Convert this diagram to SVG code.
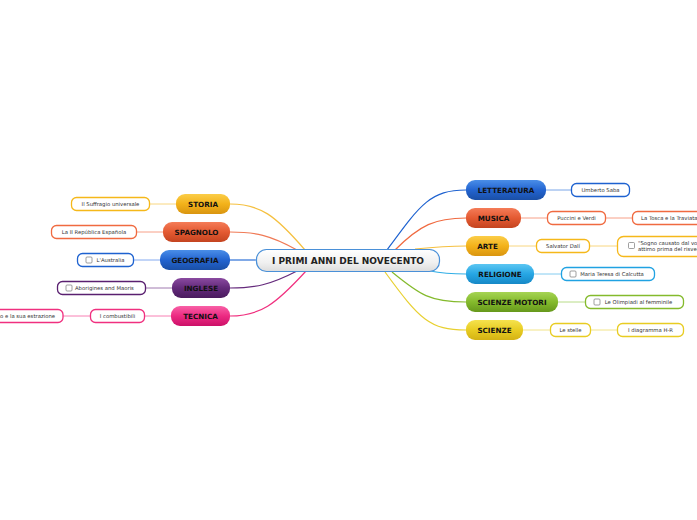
<svg xmlns="http://www.w3.org/2000/svg" width="697" height="520" viewBox="0 0 697 520">
<defs>
<linearGradient id="gBlue" x1="0" y1="0" x2="0" y2="1"><stop offset="0" stop-color="#4a8ee8"/><stop offset="0.5" stop-color="#2364d0"/><stop offset="1" stop-color="#1a4fa6"/></linearGradient>
<linearGradient id="gRed" x1="0" y1="0" x2="0" y2="1"><stop offset="0" stop-color="#f47c58"/><stop offset="0.5" stop-color="#e45a32"/><stop offset="1" stop-color="#c44420"/></linearGradient>
<linearGradient id="gGold" x1="0" y1="0" x2="0" y2="1"><stop offset="0" stop-color="#fbcd48"/><stop offset="0.5" stop-color="#f3b21a"/><stop offset="1" stop-color="#d99510"/></linearGradient>
<linearGradient id="gCyan" x1="0" y1="0" x2="0" y2="1"><stop offset="0" stop-color="#5cc6f2"/><stop offset="0.5" stop-color="#26a6e4"/><stop offset="1" stop-color="#1688c6"/></linearGradient>
<linearGradient id="gGreen" x1="0" y1="0" x2="0" y2="1"><stop offset="0" stop-color="#a6d454"/><stop offset="0.5" stop-color="#84ba2c"/><stop offset="1" stop-color="#66981c"/></linearGradient>
<linearGradient id="gYellow" x1="0" y1="0" x2="0" y2="1"><stop offset="0" stop-color="#f5e24e"/><stop offset="0.5" stop-color="#e8cc22"/><stop offset="1" stop-color="#d4b214"/></linearGradient>
<linearGradient id="gPurple" x1="0" y1="0" x2="0" y2="1"><stop offset="0" stop-color="#8a4aa0"/><stop offset="0.5" stop-color="#632a7a"/><stop offset="1" stop-color="#4a1a5e"/></linearGradient>
<linearGradient id="gPink" x1="0" y1="0" x2="0" y2="1"><stop offset="0" stop-color="#f860a6"/><stop offset="0.5" stop-color="#ec2a82"/><stop offset="1" stop-color="#cc1068"/></linearGradient>
<linearGradient id="gCenter" x1="0" y1="0" x2="0" y2="1"><stop offset="0" stop-color="#ffffff"/><stop offset="0.6" stop-color="#f0f0f0"/><stop offset="1" stop-color="#dcdcdc"/></linearGradient>
</defs>
<style>
.main text{font-family:"DejaVu Sans",Verdana,sans-serif;font-weight:bold;font-size:7.2px;fill:#111;text-anchor:middle}
.sub rect.b{fill:#fff;stroke-width:1.3}
.sub text{font-family:"DejaVu Sans",Verdana,sans-serif;font-size:5.3px;fill:#333;text-anchor:middle}
.cb{fill:#fff;stroke:#777;stroke-width:0.7}
#connectors path{fill:none;stroke-width:1.2}
#connectors line{stroke-width:1}
</style>
<rect width="697" height="520" fill="#ffffff"/>
<g id="connectors">
<path d="M387,250 C420,205 430,190 466,190" stroke="#1e62d0"/>
<path d="M395,250 C420,225 435,218 466,218" stroke="#f06a40"/>
<path d="M415,249 C435,247 450,246 466,246" stroke="#f5c040"/>
<path d="M430,271 C445,274 455,274 466,274" stroke="#30aee6"/>
<path d="M392,272 C420,295 430,302 466,302" stroke="#84ba2c"/>
<path d="M385,272 C420,320 430,330 466,330" stroke="#e8d030"/>
<path d="M305,250 C275,215 260,204 230,204" stroke="#f5c040"/>
<path d="M297,250 C270,235 255,232 230,232" stroke="#f07a56"/>
<path d="M256,260 L230,260" stroke="#2e72d8"/>
<path d="M297,271 C270,285 255,288 230,288" stroke="#652a7c"/>
<path d="M306,271 C275,305 260,316 230,316" stroke="#f0307f"/>
<line x1="546" y1="190" x2="571" y2="190" stroke="#7aa6e8"/>
<line x1="521" y1="218" x2="547" y2="218" stroke="#f7a088"/>
<line x1="605" y1="218" x2="632" y2="218" stroke="#f7a088"/>
<line x1="509" y1="246" x2="536" y2="246" stroke="#f8d680"/>
<line x1="589" y1="246" x2="617" y2="246" stroke="#f8d680"/>
<line x1="534" y1="274" x2="561" y2="274" stroke="#84ccf0"/>
<line x1="558" y1="302" x2="585" y2="302" stroke="#b8dc88"/>
<line x1="523" y1="330" x2="550" y2="330" stroke="#f2e488"/>
<line x1="590" y1="330" x2="617" y2="330" stroke="#f2e488"/>
<line x1="176" y1="204" x2="150" y2="204" stroke="#f8d680"/>
<line x1="163" y1="232" x2="137" y2="232" stroke="#f7a088"/>
<line x1="160" y1="260" x2="134" y2="260" stroke="#84aaf0"/>
<line x1="172" y1="288" x2="146" y2="288" stroke="#a07ab0"/>
<line x1="171" y1="316" x2="145" y2="316" stroke="#f880b4"/>
<line x1="90" y1="316" x2="63" y2="316" stroke="#f880b4"/>
</g>
<g id="center">
<rect x="256.5" y="249.5" width="183" height="22" rx="10" fill="url(#gCenter)" stroke="#4a90d8" stroke-width="1.2"/>
<text x="348" y="263.8" font-family="DejaVu Sans,Verdana,sans-serif" font-weight="bold" font-size="9" fill="#222" text-anchor="middle">I PRIMI ANNI DEL NOVECENTO</text>
</g>
<g id="letteratura" class="main"><rect x="466" y="180" width="80" height="20" rx="9" fill="url(#gBlue)"/><text x="506" y="192.6">LETTERATURA</text></g>
<g id="musica" class="main"><rect x="466" y="208" width="55" height="20" rx="9" fill="url(#gRed)"/><text x="493.5" y="220.6">MUSICA</text></g>
<g id="arte" class="main"><rect x="466" y="236" width="43" height="20" rx="9" fill="url(#gGold)"/><text x="487.5" y="248.6">ARTE</text></g>
<g id="religione" class="main"><rect x="466" y="264" width="68" height="20" rx="9" fill="url(#gCyan)"/><text x="500" y="276.6">RELIGIONE</text></g>
<g id="scienze-motori" class="main"><rect x="466" y="292" width="92" height="20" rx="9" fill="url(#gGreen)"/><text x="512" y="304.6">SCIENZE MOTORI</text></g>
<g id="scienze" class="main"><rect x="466" y="320" width="57" height="20" rx="9" fill="url(#gYellow)"/><text x="494.5" y="332.6">SCIENZE</text></g>
<g id="storia" class="main"><rect x="176" y="194" width="54" height="20" rx="9" fill="url(#gGold)"/><text x="203" y="206.6">STORIA</text></g>
<g id="spagnolo" class="main"><rect x="163" y="222" width="67" height="20" rx="9" fill="url(#gRed)"/><text x="196.5" y="234.6">SPAGNOLO</text></g>
<g id="geografia" class="main"><rect x="160" y="250" width="70" height="20" rx="9" fill="url(#gBlue)"/><text x="195" y="262.6">GEOGRAFIA</text></g>
<g id="inglese" class="main"><rect x="172" y="278" width="58" height="20" rx="9" fill="url(#gPurple)"/><text x="201" y="290.6">INGLESE</text></g>
<g id="tecnica" class="main"><rect x="171" y="306" width="59" height="20" rx="9" fill="url(#gPink)"/><text x="200.5" y="318.6">TECNICA</text></g>
<g id="umberto-saba" class="sub"><rect class="b" x="571.5" y="183.5" width="58" height="13" rx="5" stroke="#1e62d0"/><text x="600.5" y="192">Umberto Saba</text></g>
<g id="puccini-verdi" class="sub"><rect class="b" x="547.5" y="211.5" width="58" height="13" rx="5" stroke="#f06a40"/><text x="576.5" y="220">Puccini e Verdi</text></g>
<g id="tosca-traviata" class="sub"><rect class="b" x="632.5" y="211.5" width="80" height="13" rx="5" stroke="#f06a40"/><text x="641" y="220" style="text-anchor:start">La Tosca e la Traviata</text></g>
<g id="salvator-dali" class="sub"><rect class="b" x="536.5" y="239.5" width="53" height="13" rx="5" stroke="#f5b81a"/><text x="563" y="248">Salvator Dalí</text></g>
<g id="sogno" class="sub"><rect class="b" x="617.5" y="236.5" width="100" height="20" rx="6" stroke="#f5b81a"/><rect class="cb" x="628.5" y="242.5" width="6" height="6" rx="1"/><text x="638" y="244.5" style="text-anchor:start">"Sogno causato dal volo di un'ape</text><text x="638" y="251" style="text-anchor:start">attimo prima del risveglio"</text></g>
<g id="madre-teresa" class="sub"><rect class="b" x="561.5" y="267.5" width="93" height="13" rx="5" stroke="#20a2e2"/><rect class="cb" x="570" y="271" width="6" height="6" rx="1"/><text x="612" y="276">Maria Teresa di Calcutta</text></g>
<g id="olimpiadi" class="sub"><rect class="b" x="585.5" y="295.5" width="98" height="13" rx="5" stroke="#84ba2c"/><rect class="cb" x="594" y="299" width="6" height="6" rx="1"/><text x="638.5" y="304">Le Olimpiadi al femminile</text></g>
<g id="stelle" class="sub"><rect class="b" x="550.5" y="323.5" width="40" height="13" rx="5" stroke="#e8cc22"/><text x="570.5" y="332">Le stelle</text></g>
<g id="diagramma" class="sub"><rect class="b" x="617.5" y="323.5" width="66" height="13" rx="5" stroke="#e8cc22"/><text x="650.5" y="332">I diagramma H-R</text></g>
<g id="suffragio" class="sub"><rect class="b" x="71.5" y="197.5" width="78" height="13" rx="5" stroke="#f5b81a"/><text x="110.5" y="206">Il Suffragio universale</text></g>
<g id="republica" class="sub"><rect class="b" x="51.5" y="225.5" width="85" height="13" rx="5" stroke="#f06a40"/><text x="94" y="234">La II República Española</text></g>
<g id="australia" class="sub"><rect class="b" x="77.5" y="253.5" width="56" height="13" rx="5" stroke="#1e62d0"/><rect class="cb" x="86" y="257" width="6" height="6" rx="1"/><text x="110.5" y="262">L'Australia</text></g>
<g id="aborigines" class="sub"><rect class="b" x="57.5" y="281.5" width="88" height="13" rx="5" stroke="#5a2070"/><rect class="cb" x="66" y="285" width="6" height="6" rx="1"/><text x="75" y="290" style="text-anchor:start">Aborigines and Maoris</text></g>
<g id="combustibili" class="sub"><rect class="b" x="90.5" y="309.5" width="54" height="13" rx="5" stroke="#f0307f"/><text x="117.5" y="318">I combustibili</text></g>
<g id="estrazione" class="sub"><rect class="b" x="-40" y="309.5" width="103" height="13" rx="5" stroke="#f0307f"/><text x="55" y="318" style="text-anchor:end">Il petrolio e la sua estrazione</text></g>
</svg>
